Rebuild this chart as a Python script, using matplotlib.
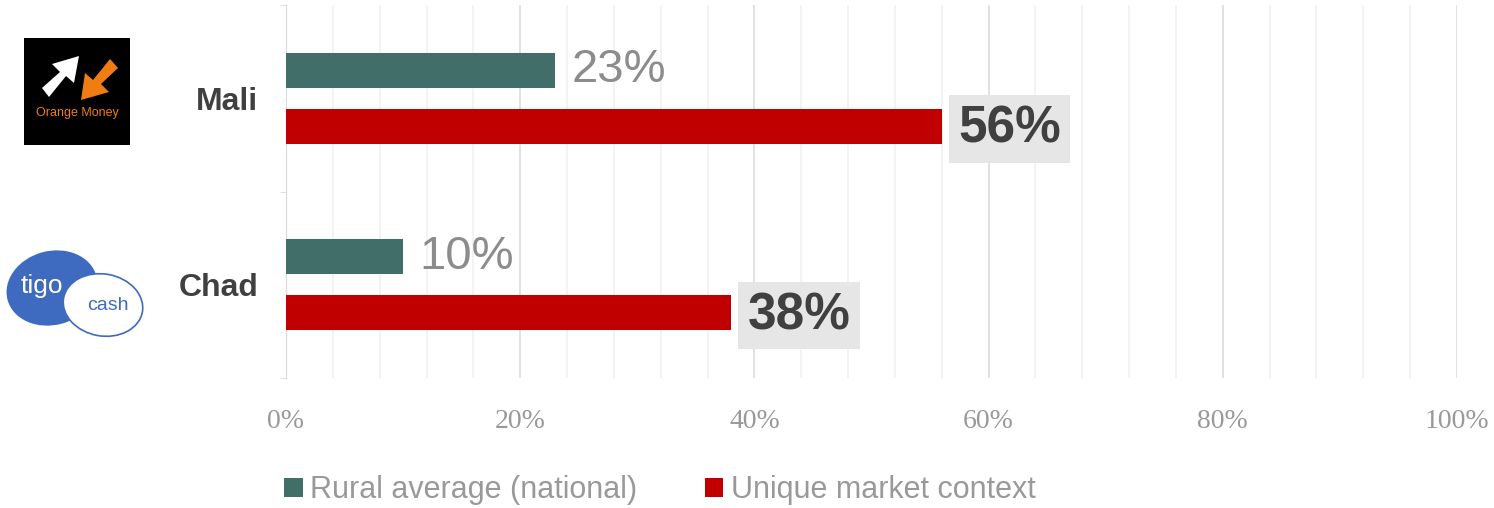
import matplotlib.pyplot as plt
from matplotlib.patches import Polygon, Ellipse, Patch
from matplotlib.ticker import MultipleLocator, PercentFormatter

countries = ["Mali", "Chad"]
rural_avg = [23, 10]
unique_ctx = [56, 38]
series_names = ["Rural average (national)", "Unique market context"]

GREEN = "#416e69"
RED = "#c00000"
DARK = "#404040"
GRAY = "#8c8c8c"

fig = plt.figure(figsize=(14.94, 5.08), dpi=100)
ax = fig.add_axes([286 / 1494, 1 - 378 / 508, (1457 - 286) / 1494, (378 - 5) / 508])

y = list(range(len(countries)))
h = 0.19
off = 0.15
ax.barh([v - off for v in y], rural_avg, height=h, color=GREEN, zorder=3)
ax.barh([v + off for v in y], unique_ctx, height=h, color=RED, zorder=3)

for i in y:
    ax.annotate(f"{rural_avg[i]}%", (rural_avg[i], i - off), xytext=(12, 0),
                textcoords="offset points", va="center", ha="left",
                fontsize=34, color=GRAY, family="Liberation Sans")
    ax.annotate(f"{unique_ctx[i]}%", (unique_ctx[i], i + off), xytext=(12, -2),
                textcoords="offset points", va="center", ha="left",
                fontsize=37, fontweight="bold", color=DARK, family="Liberation Sans",
                bbox=dict(boxstyle="square,pad=0.18", fc="#e6e6e6", ec="none"))

ax.set_xlim(0, 100)
ax.set_ylim(1.5, -0.5)
ax.xaxis.set_major_locator(MultipleLocator(20))
ax.xaxis.set_minor_locator(MultipleLocator(4))
ax.xaxis.set_major_formatter(PercentFormatter(decimals=0))
ax.grid(axis="x", which="major", color="#dedede", lw=1.3, zorder=0)
ax.grid(axis="x", which="minor", color="#f2f2f2", lw=1.3, zorder=0)
ax.tick_params(axis="x", which="both", length=0, pad=22, labelsize=20, labelcolor="#999999")
for lab in ax.get_xticklabels():
    lab.set_family("Liberation Serif")

ax.set_yticks([-0.5, 0.5, 1.5], minor=True)
ax.set_yticks(y)
ax.set_yticklabels(countries, fontsize=23, fontweight="bold", color=DARK, family="Liberation Sans")
ax.tick_params(axis="y", which="major", length=0, pad=20)
ax.tick_params(axis="y", which="minor", length=4, color="#d9d9d9")
for s in ["top", "right", "bottom"]:
    ax.spines[s].set_visible(False)
ax.spines["left"].set_color("#d9d9d9")


def logo_axes(x0, y0, x1, y1):
    # axes in pixel coordinates of the figure, y pointing down
    la = fig.add_axes([x0 / 1494, 1 - y1 / 508, (x1 - x0) / 1494, (y1 - y0) / 508])
    la.set_xlim(x0, x1)
    la.set_ylim(y1, y0)
    la.set_xticks([])
    la.set_yticks([])
    for s in la.spines.values():
        s.set_visible(False)
    return la


# Orange Money logo (approximation)
lg1 = logo_axes(24, 38, 130, 145)
lg1.set_facecolor("black")
lg1.add_patch(Polygon([(42, 88), (60, 72), (52, 64), (79, 56), (74, 83), (66, 76),
                       (49, 97)], closed=True, fc="white"))
lg1.add_patch(Polygon([(118, 68), (101, 84), (109, 92), (81, 100), (85, 73), (93, 80),
                       (110, 59)], closed=True, fc="#f07d14"))
lg1.text(77, 113, "Orange Money", ha="center", va="center", fontsize=9,
         color="#f07d14", family="Liberation Sans")

# Tigo cash logo (approximation)
lg2 = logo_axes(4, 245, 148, 342)
lg2.axis("off")
lg2.add_patch(Ellipse((52, 288), 92, 74, angle=-15, fc="#3e6bbf", ec="none"))
lg2.text(42, 286, "tigo", ha="center", va="center", fontsize=19, color="white",
         family="Liberation Sans")
lg2.add_patch(Ellipse((103, 305), 80, 62, angle=10, fc="white", ec="#3e6bbf", lw=1.2))
lg2.text(108, 305, "cash", ha="center", va="center", fontsize=14, color="#3e6bbf",
         family="Liberation Sans")

handles = [Patch(fc=GREEN, ec="none"), Patch(fc=RED, ec="none")]
fig.legend(handles, series_names, loc="center", bbox_to_anchor=(660 / 1494, 1 - 490 / 508),
           ncol=2, frameon=False, handlelength=0.6, handleheight=0.6, handletextpad=0.25,
           columnspacing=2.2, prop={"family": "Liberation Sans", "size": 22},
           labelcolor="#999999")

fig.savefig("out.png", dpi=100)
